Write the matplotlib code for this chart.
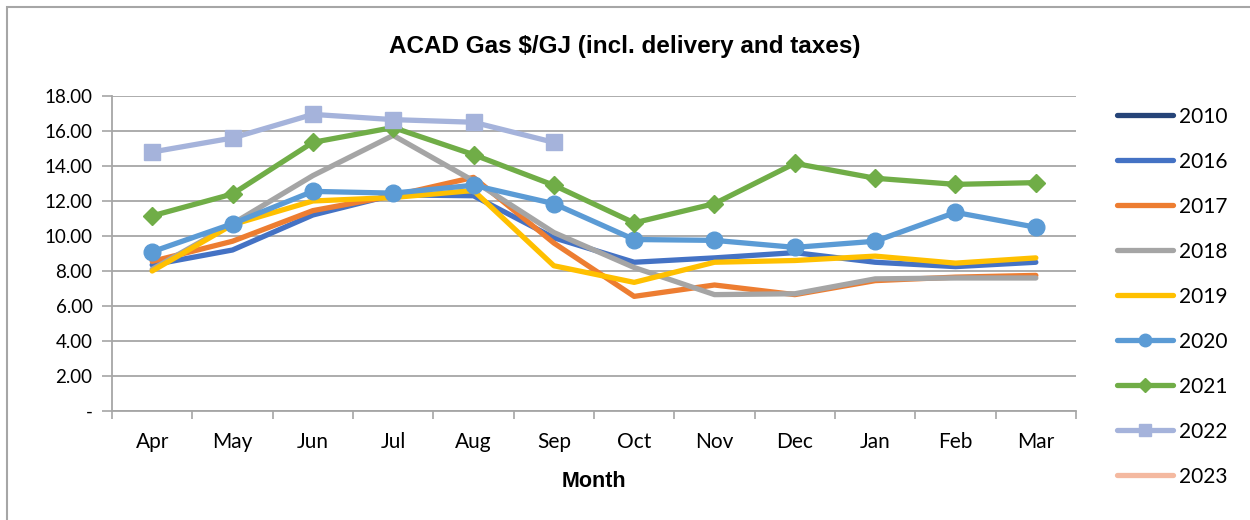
import numpy as np
import matplotlib
matplotlib.use("Agg")
import matplotlib.pyplot as plt
from matplotlib.lines import Line2D

plt.rcParams['font.family'] = ['Lato', 'DejaVu Sans']

months = ['Apr', 'May', 'Jun', 'Jul', 'Aug', 'Sep', 'Oct', 'Nov', 'Dec', 'Jan', 'Feb', 'Mar']
nan = np.nan

# $/GJ by fiscal year (Apr..Mar)
y2010 = [nan] * 12
y2016 = [8.35, 9.2, 11.2, 12.35, 12.3, 9.9, 8.5, 8.75, 9.05, 8.5, 8.25, 8.5]
y2017 = [8.55, 9.7, 11.45, 12.3, 13.35, 9.6, 6.55, 7.2, 6.65, 7.45, 7.65, 7.75]
y2018 = [8.1, 10.7, 13.45, 15.75, 13.15, 10.2, 8.2, 6.65, 6.7, 7.55, 7.6, 7.6]
y2019 = [8.0, 10.65, 12.0, 12.2, 12.6, 8.3, 7.35, 8.5, 8.6, 8.85, 8.45, 8.75]
y2020 = [9.1, 10.7, 12.55, 12.45, 12.9, 11.85, 9.8, 9.75, 9.35, 9.7, 11.35, 10.5]
y2021 = [11.15, 12.4, 15.35, 16.2, 14.65, 12.9, 10.75, 11.85, 14.15, 13.3, 12.95, 13.05]
y2022 = [14.8, 15.6, 16.95, 16.65, 16.5, 15.35, nan, nan, nan, nan, nan, nan]
y2023 = [nan] * 12

series = [
    ('2010', y2010, '#264478', None, 0),
    ('2016', y2016, '#4472C4', None, 0),
    ('2017', y2017, '#ED7D31', None, 0),
    ('2018', y2018, '#A5A5A5', None, 0),
    ('2019', y2019, '#FFC000', None, 0),
    ('2020', y2020, '#5B9BD5', 'o', 12),
    ('2021', y2021, '#70AD47', 'D', 9),
    ('2022', y2022, '#A5B3DB', 's', 12),
    ('2023', y2023, '#F4B9A0', None, 0),
]

fig = plt.figure(figsize=(12.5, 5.2), dpi=100)
ax = fig.add_axes([112 / 1250, 1 - 411 / 520, (1076 - 112) / 1250, (411 - 96) / 520])

x = np.arange(len(months))
handles = []
for name, vals, col, mk, ms in series:
    ax.plot(x, vals, color=col, lw=3.8, marker=mk, ms=ms, solid_capstyle='round',
            solid_joinstyle='round', zorder=3)
    handles.append(Line2D([], [], color=col, lw=3.8, marker=mk, ms=ms * 0.75,
                          solid_capstyle='round'))

ax.set_xlim(-0.5, 11.5)
ax.set_ylim(0, 18)
ax.set_yticks(np.arange(0, 19, 2))
ax.set_yticklabels(['-' if v == 0 else f'{v:.2f}' for v in np.arange(0, 19, 2)], fontsize=13.5)
ax.set_xticks(x)
ax.set_xticklabels(months, fontsize=15)
ax.set_xticks(np.arange(-0.5, 12, 1), minor=True)
ax.tick_params(axis='x', which='major', length=0, pad=15)
ax.tick_params(axis='x', which='minor', length=6, color='#A6A6A6', width=1.2)
ax.tick_params(axis='y', length=7, color='#A6A6A6', width=1.2, pad=7)
ax.grid(axis='y', color='#A6A6A6', lw=1.3)
ax.set_axisbelow(True)
for s in ['top', 'right']:
    ax.spines[s].set_visible(False)
for s in ['left', 'bottom']:
    ax.spines[s].set_color('#A6A6A6')
    ax.spines[s].set_linewidth(1.3)
ax.set_xlabel('Month', fontsize=15.5, fontweight='bold', family='Liberation Sans', labelpad=14)

fig.text(0.5, 1 - 47 / 520, 'ACAD Gas $/GJ (incl. delivery and taxes)', ha='center',
         va='center', fontsize=17.5, fontweight='bold', family='Liberation Sans')

fig.legend(handles, [s[0] for s in series], loc='upper left',
           bbox_to_anchor=(1098 / 1250, 1 - 88 / 520), frameon=False, fontsize=15,
           handlelength=2.7, labelspacing=1.2, handletextpad=0.3)

# chart area border
fig.add_artist(plt.Rectangle((7 / 1250, -0.1), 1.2, 1 - 7 / 520 + 0.1, transform=fig.transFigure,
                             fill=False, edgecolor='#A6A6A6', lw=1.5))

fig.savefig('out.png', dpi=100, facecolor='white')
